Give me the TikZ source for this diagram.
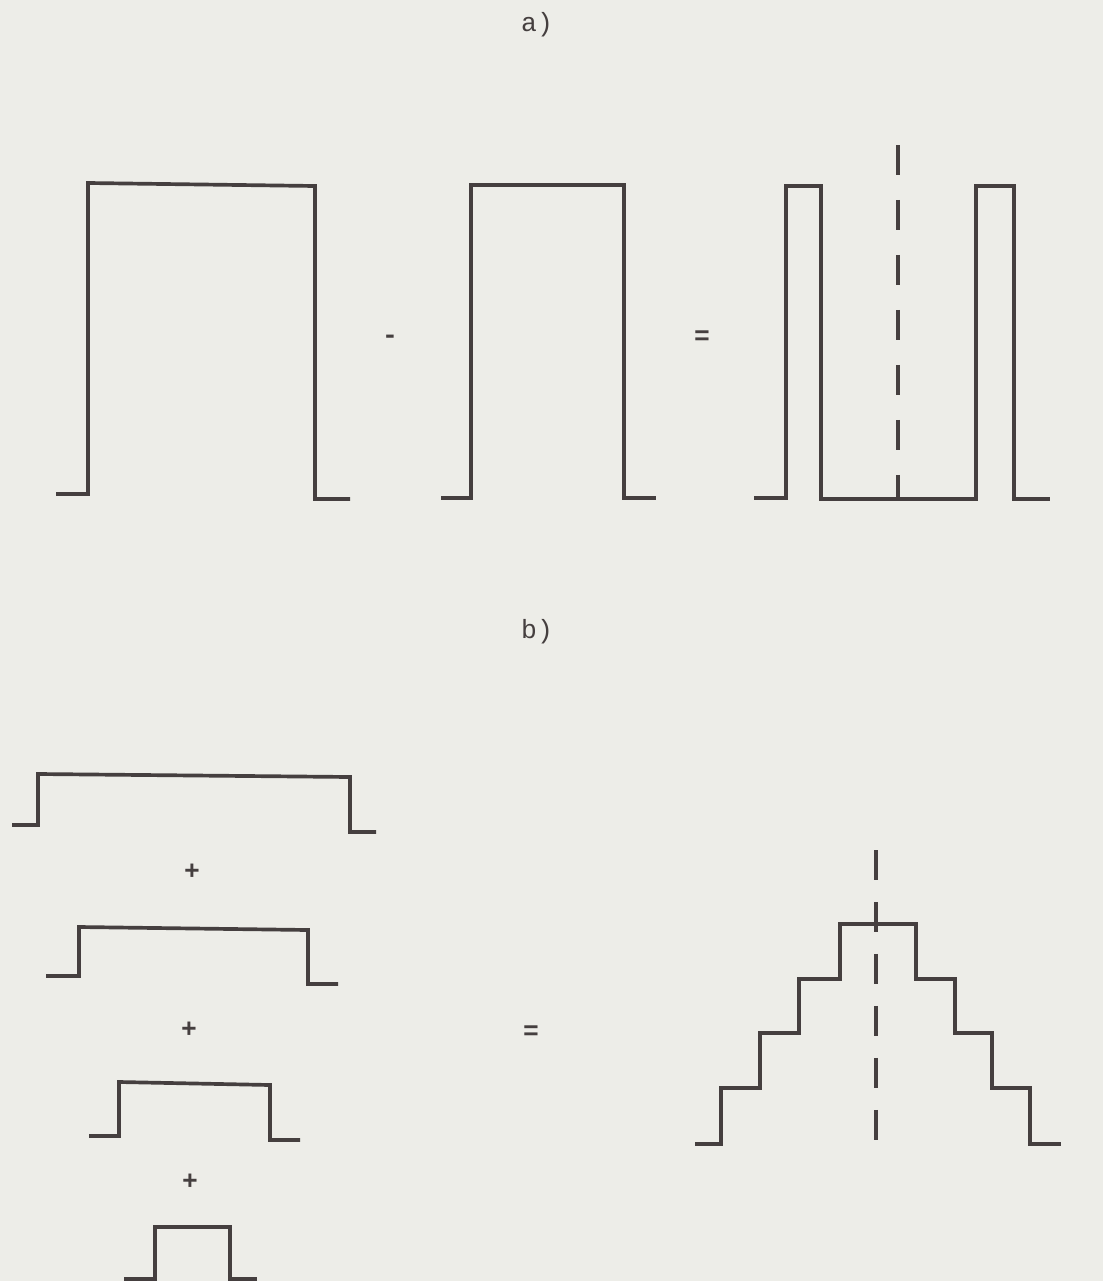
\documentclass[tikz,border=0pt]{standalone}
\usepackage{fontspec}
\setmainfont{Liberation Mono}
\usetikzlibrary{backgrounds}
\definecolor{sqInk}{HTML}{453F3F}
\definecolor{sqPaper}{HTML}{EDEDE8}
\tikzset{
  wave/.style={draw=sqInk,line width=2.1pt,line join=miter},
  symaxis/.style={draw=sqInk,line width=1.8pt,dash pattern=on 0.6cm off 0.5cm},
  lbl/.style={text=sqInk,font=\fontsize{15}{17}\selectfont,inner sep=0pt},
  op/.style={lbl,font=\fontsize{15}{17}\selectfont\bfseries},
}
\begin{document}
\begin{tikzpicture}[x=0.02cm,y=-0.02cm]
  \fill[sqPaper] (0,0) rectangle (1103,1281);
  \useasboundingbox (0,0) rectangle (1103,1281);

  % a) difference of two pulses
  \node[lbl] (la) at (537,25) {a)};
  \draw[wave] (56,494) -- (88,494) -- (88,183) -- (315,186) -- (315,499) -- (350,499);
  \draw[wave] (441,498) -- (471,498) -- (471,185) -- (624,185) -- (624,498) -- (656,498);
  \draw[wave] (754,498) -- (786,498) -- (786,186) -- (821,186) -- (821,499)
              -- (976,499) -- (976,186) -- (1014,186) -- (1014,499) -- (1050,499);
  \coordinate (atop) at (898,145);
  \coordinate (abot) at (898,499);
  \draw[symaxis] (atop) -- (abot);
  \node[op] (minus) at (390,339) {-};
  \node[op] (eqa) at (702,338) {=};

  % b) sum of pulses gives a staircase
  \node[lbl] (lb) at (537,632) {b)};
  \draw[wave] (12,825) -- (38,825) -- (38,774) -- (350,777) -- (350,832) -- (376,832);
  \draw[wave] (46,976) -- (79,976) -- (79,927) -- (308,930) -- (308,984) -- (338,984);
  \draw[wave] (89,1136) -- (119,1136) -- (119,1082) -- (270,1085) -- (270,1140) -- (300,1140);
  \draw[wave] (124,1279) -- (155,1279) -- (155,1227) -- (230,1227) -- (230,1279) -- (257,1279);
  \node[op] (plus1) at (192,872) {+};
  \node[op] (plus2) at (189,1030) {+};
  \node[op] (plus3) at (190,1182) {+};
  \node[op] (eqb) at (531,1033) {=};

  \draw[wave] (695,1144) -- (721,1144) -- (721,1088) -- (760,1088) -- (760,1033)
              -- (799,1033) -- (799,979) -- (840,979) -- (840,924) -- (916,924)
              -- (916,979) -- (955,979) -- (955,1033) -- (992,1033) -- (992,1088)
              -- (1030,1088) -- (1030,1144) -- (1061,1144);
  \coordinate (btop) at (876,850);
  \coordinate (bbot) at (876,1144);
  \draw[symaxis,dash pattern=on 0.6cm off 0.44cm] (btop) -- (bbot);
\end{tikzpicture}
\end{document}
